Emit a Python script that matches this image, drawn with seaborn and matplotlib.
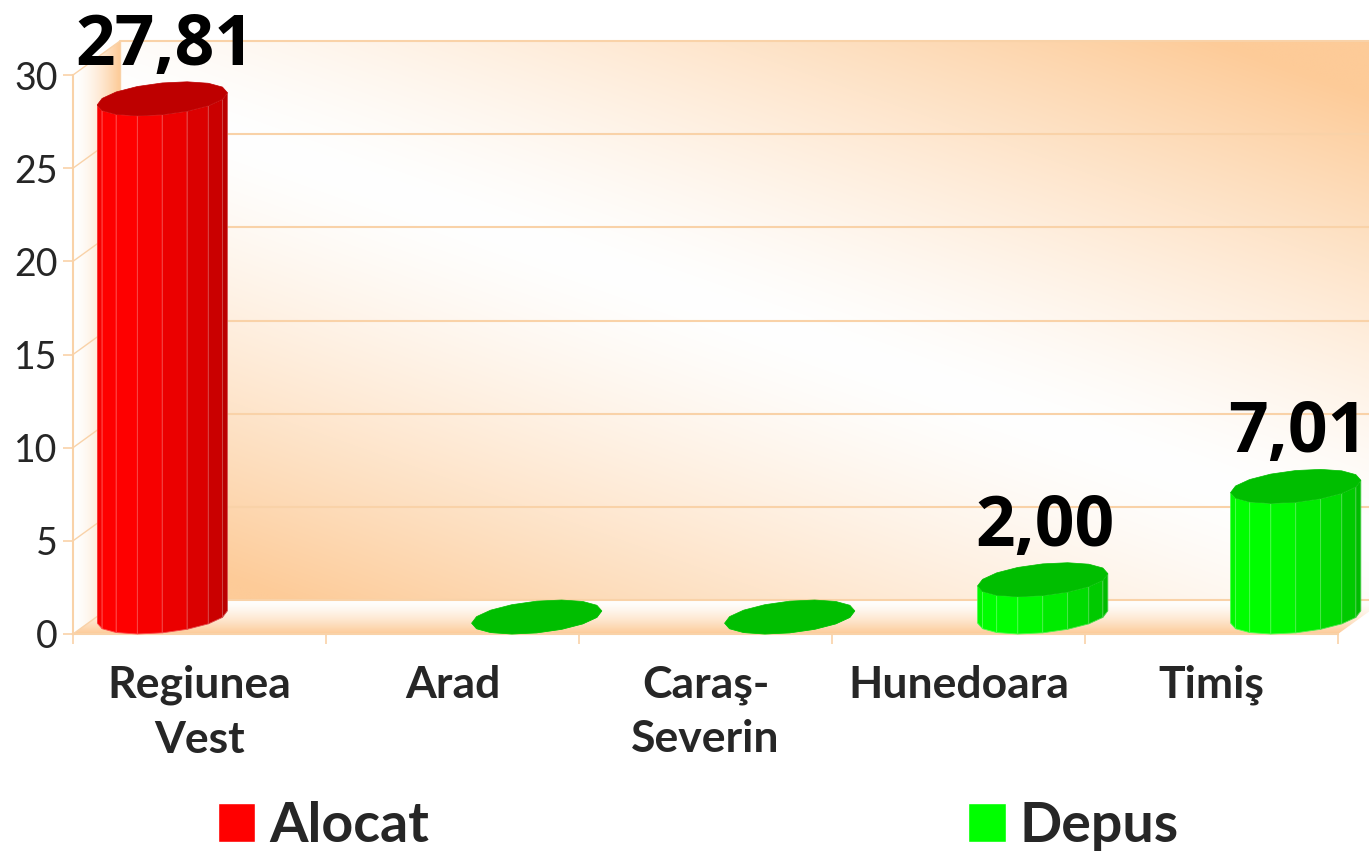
import numpy as np
import pandas as pd
import matplotlib
matplotlib.use("Agg")
import matplotlib.pyplot as plt
import matplotlib.colors as mcolors
from matplotlib.patches import Polygon
import seaborn as sns

# ---- data ----
categories = ["Regiunea\nVest", "Arad", "Caraş-\nSeverin", "Hunedoara", "Timiş"]
series = ["Alocat", "Depus", "Depus", "Depus", "Depus"]
values = [27.81, 0.00, 0.00, 2.00, 7.01]
series_order = ["Alocat", "Depus"]
series_colors = ["#FF0000", "#00FF00"]
top_colors = ["#BE0000", "#00BE00"]
y_ticks = [0, 5, 10, 15, 20, 25, 30]

df = pd.DataFrame({"regiune": categories, "tip": series, "valoare": values})

sns.set_theme(style="white")
plt.rcParams["font.family"] = ["Lato", "DejaVu Sans"]

W, H = 1369, 852
fig = plt.figure(figsize=(W / 100, H / 100), dpi=100)

# pixel geometry of the 3d box
FX0, FX1 = 73, 1338      # front plane x range
FY0, FY30 = 634, 75      # front plane y of value 0 and 30
DX, DY = 47, -34         # depth shift to the back wall
ppu = (FY0 - FY30) / 30.0
ppx = (FX1 - FX0) / 5.0
grid_col = "#F9D2A8"
peach = np.array([253, 203, 152]) / 255.0
white = np.ones(3)


def fig_box(x0, x1, y_top, y_bot):
    return [x0 / W, 1 - y_bot / H, (x1 - x0) / W, (y_bot - y_top) / H]


# ---- background: walls, floor, grid ----
ax_bg = fig.add_axes([0, 0, 1, 1])
ax_bg.set_xlim(0, W)
ax_bg.set_ylim(H, 0)
ax_bg.axis("off")

bx0, bx1 = FX0 + DX, FX1 + DX
by0, by1 = FY30 + DY, FY0 + DY
xs = np.linspace(bx0, bx1, 500)
ys = np.linspace(by0, by1, 250)
X, Y = np.meshgrid(xs, ys)
d = np.array([bx1 - bx0, (by1 - by0) - 110.0])
d = d / np.linalg.norm(d)
n = np.array([-d[1], d[0]])
dist = (X - bx0) * n[0] + (Y - (by0 + 55)) * n[1]
t = np.clip(np.abs(dist) / 420.0, 0, 1) ** 1.35
img = white * (1 - t[..., None]) + peach * t[..., None]
wall = Polygon([(bx0, by0), (bx1, by0), (bx1, by1), (bx0, by1)], closed=True,
               transform=ax_bg.transData, facecolor="none", edgecolor="none")
ax_bg.add_patch(wall)
im = ax_bg.imshow(img, extent=[bx0, bx1, by1, by0], origin="upper", aspect="auto",
                  interpolation="bilinear", zorder=0)
im.set_clip_path(wall)

# left side wall
xs = np.linspace(FX0, bx0, 60)
t = np.clip((xs - FX0) / DX, 0, 1) ** 1.6
img = white * (1 - t[None, :, None]) + peach * t[None, :, None]
img = np.repeat(img, 10, axis=0)
side = Polygon([(FX0, FY30), (bx0, by0), (bx0, by1), (FX0, FY0)], closed=True,
               transform=ax_bg.transData, facecolor="none", edgecolor="none")
ax_bg.add_patch(side)
im = ax_bg.imshow(img, extent=[FX0, bx0, FY0, by0], origin="upper", aspect="auto",
                  interpolation="bilinear", zorder=0)
im.set_clip_path(side)

# floor
ys = np.linspace(by1, FY0, 60)
t = np.clip((ys - by1) / (FY0 - by1), 0, 1) ** 1.4
img = white * (1 - t[:, None, None]) + peach * t[:, None, None]
img = np.repeat(img, 10, axis=1)
floor = Polygon([(FX0, FY0), (bx0, by1), (bx1, by1), (FX1, FY0)], closed=True,
                transform=ax_bg.transData, facecolor="none", edgecolor="none")
ax_bg.add_patch(floor)
im = ax_bg.imshow(img, extent=[FX0, bx1, FY0, by1], origin="upper", aspect="auto",
                  interpolation="bilinear", zorder=0)
im.set_clip_path(floor)

for v in y_ticks:
    yf = FY0 - v * ppu
    yb = yf + DY
    ax_bg.plot([bx0, W], [yb, yb], color=grid_col, lw=1.5, zorder=1)
    ax_bg.plot([FX0, bx0], [yf, yb], color=grid_col, lw=1.0, zorder=1)
ax_bg.plot([bx0, bx0], [by0, by1], color=grid_col, lw=1.0, zorder=1)
ax_bg.set_xlim(0, W)
ax_bg.set_ylim(H, 0)

# ---- front plane: axis ticks and labels ----
ax_front = fig.add_axes(fig_box(FX0, FX1, FY30, FY0))
ax_front.patch.set_alpha(0)
ax_front.set_xlim(-0.5, 4.5)
ax_front.set_ylim(0, 30)
for sp in ["top", "right"]:
    ax_front.spines[sp].set_visible(False)
for sp in ["left", "bottom"]:
    ax_front.spines[sp].set_color(grid_col)
    ax_front.spines[sp].set_linewidth(1.5)
ax_front.set_yticks(y_ticks)
ax_front.set_yticklabels([str(v) for v in y_ticks], fontsize=27)
ax_front.set_xticks(range(len(categories)))
ax_front.set_xticklabels(categories, fontsize=32, fontweight="bold", linespacing=1.45)
ax_front.set_xticks(np.arange(-0.5, len(categories)), minor=True)
ax_front.tick_params(axis="y", length=7, width=1.2, color=grid_col, pad=4, left=True)
ax_front.tick_params(axis="x", which="major", length=0, pad=22)
ax_front.tick_params(axis="x", which="minor", length=7, width=1.2, color=grid_col, bottom=True)

# ---- bars (drawn in the mid-depth plane) ----
YLO, YHI = -2, 31
mid_y0 = FY0 + DY / 2.0
ax = fig.add_axes(fig_box(FX0 + DX / 2.0, FX1 + DX / 2.0,
                          mid_y0 - YHI * ppu, mid_y0 - YLO * ppu))
ax.patch.set_alpha(0)
sns.barplot(data=df, x="regiune", y="valoare", hue="tip", hue_order=series_order,
            order=categories, palette=series_colors, saturation=1, width=0.96,
            dodge=True, errorbar=None, ax=ax)

s = (DX / 2.0) / ppx          # oblique shear of the base ellipse, x units
ky = (-DY / 2.0) / ppu        # half depth of the base ellipse, y units
N = 16
light = np.deg2rad(-115)

for p in list(ax.patches):
    p.set_visible(False)
    h = p.get_height()
    a = p.get_width() / 2.0
    if not np.isfinite(h) or not np.isfinite(a) or a <= 0.01:
        continue
    xc = p.get_x() + a
    rgb = np.array(mcolors.to_rgb(p.get_facecolor()))
    k = int(np.argmax(rgb))
    si = 0 if k == 0 else 1

    th0 = np.arctan2(s, a)
    ang = th0 + np.pi + np.arange(N + 1) * 2 * np.pi / N
    ex = a * np.cos(ang) + s * np.sin(ang)
    ey = ky * np.sin(ang)
    for j in range(N // 2):
        mid = ang[j] + np.pi / N
        lam = 0.5 + 0.5 * np.cos(mid - light)
        val = 0.66 + 0.34 * lam
        col = np.zeros(3)
        col[k] = val
        edge = col * 0.7 + white * 0.3
        quad = [(xc + ex[j], ey[j]), (xc + ex[j + 1], ey[j + 1]),
                (xc + ex[j + 1], h + ey[j + 1]), (xc + ex[j], h + ey[j])]
        ax.add_patch(Polygon(quad, closed=True, facecolor=col, edgecolor=edge,
                             lw=0.6, zorder=3))
    top = np.column_stack([xc + ex[:N], h + ey[:N]])
    ax.add_patch(Polygon(top, closed=True, facecolor=top_colors[si],
                         edgecolor=top_colors[si], lw=0.5, zorder=4))
    if h > 0:
        ax.text(xc + 0.01, h + ky + 17 / ppu, f"{h:.2f}".replace(".", ","),
                ha="center", va="baseline", fontsize=50, fontweight="bold",
                family=["Open Sans", "DejaVu Sans"], color="black", zorder=5)

ax.set_xlim(-0.5, 4.5)
ax.set_ylim(YLO, YHI)
ax.axis("off")

sns.move_legend(ax, "center", bbox_to_anchor=(0.51, 1 - 826 / H),
                bbox_transform=fig.transFigure, ncol=2, frameon=False, title=None,
                prop={"weight": "bold", "size": 40}, handlelength=0.68,
                handleheight=0.68, handletextpad=0.25, columnspacing=9.7,
                borderpad=0)

fig.savefig("out.png", dpi=100)
plt.close(fig)
